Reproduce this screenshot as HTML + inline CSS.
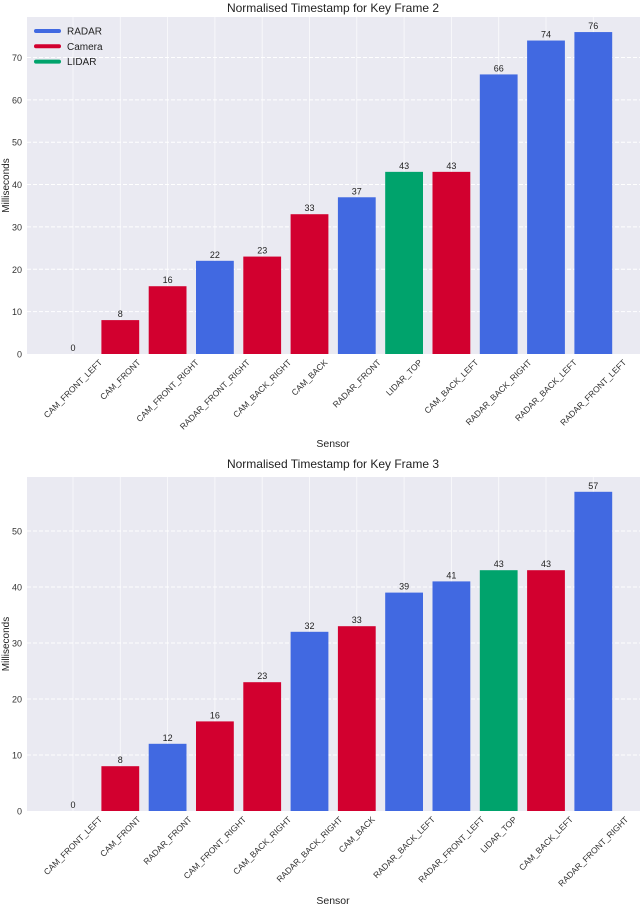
<!DOCTYPE html>
<html><head><meta charset="utf-8"><style>
body{margin:0;background:#fff;width:640px;height:905px;overflow:hidden;font-family:"Liberation Sans",sans-serif}
svg text{font-family:"Liberation Sans",sans-serif}
</style></head><body>
<svg id="s" width="640" height="905" xmlns="http://www.w3.org/2000/svg"></svg>
<script>
const cats1=["CAM_FRONT_LEFT","CAM_FRONT","CAM_FRONT_RIGHT","RADAR_FRONT_RIGHT","CAM_BACK_RIGHT","CAM_BACK","RADAR_FRONT","LIDAR_TOP","CAM_BACK_LEFT","RADAR_BACK_RIGHT","RADAR_BACK_LEFT","RADAR_FRONT_LEFT"];
const vals1=[0,8,16,22,23,33,37,43,43,66,74,76];
const types1=["C","C","C","R","C","C","R","L","C","R","R","R"];
const ticks1=[0,10,20,30,40,50,60,70];
const cats2=["CAM_FRONT_LEFT","CAM_FRONT","RADAR_FRONT","CAM_FRONT_RIGHT","CAM_BACK_RIGHT","RADAR_BACK_RIGHT","CAM_BACK","RADAR_BACK_LEFT","RADAR_FRONT_LEFT","LIDAR_TOP","CAM_BACK_LEFT","RADAR_FRONT_RIGHT"];
const vals2=[0,8,12,16,23,32,33,39,41,43,43,57];
const types2=["C","C","R","C","C","R","C","R","R","L","C","R"];
const ticks2=[0,10,20,30,40,50];
const colors={R:"#4169E1",C:"#D2002F",L:"#00A36C"};
const NS="http://www.w3.org/2000/svg";
const svg=document.getElementById("s");
function mk(tag,attrs,parent,text){const e=document.createElementNS(NS,tag);for(const k in attrs)e.setAttribute(k,attrs[k]);if(text!==undefined)e.textContent=text;(parent||svg).appendChild(e);return e;}
function chart(cfg){
  const g=mk("g",{});
  
  
  const L=27,R=640,T=cfg.top,B=cfg.zero;
  const bg=mk("rect",{x:L,y:T,width:R-L,height:B-T,fill:"#EAEAF2"},g);
  
  
  const step=47.3,x0=73;
  const xs=i=>x0+i*step;
  const ys=v=>B-v*cfg.pxPerUnit;
  cfg.ticks.forEach(t=>{
    const y=ys(t);
    if(t>0){const gl=mk("line",{x1:L,x2:R,y1:y,y2:y,stroke:"#fff","stroke-width":1,"stroke-dasharray":"4,2"},g);
    
    }
    const tl=mk("text",{x:22,y:y+3.5,"font-size":9,"text-anchor":"end",fill:"#333"},g,String(t));
    
    
  });
  cfg.cats.forEach((c,i)=>{
    const x=xs(i);
    const vl=mk("line",{x1:x,x2:x,y1:T,y2:B,stroke:"#fff","stroke-width":0.8,opacity:0.8},g);
    
    
    const v=cfg.vals[i];
    const bw=37.8;
    const r=mk("rect",{x:x-bw/2,y:ys(v),width:bw,height:B-ys(v),fill:colors[cfg.types[i]]},g);
    
    
    const vt=mk("text",{x:x,y:ys(v)-3,"font-size":9,"text-anchor":"middle",fill:"#222"},g,String(v));
    
    
    const xl=mk("text",{x:0,y:0,"font-size":8.5,"text-anchor":"end",fill:"#333"},g,c);
    
    
    const w=xl.getComputedTextLength();
    const tx=x+w*0.3536+2,ty=B+9;
    xl.setAttribute("x",tx);xl.setAttribute("y",ty);
    xl.setAttribute("transform",`rotate(-45 ${tx} ${ty})`);
  });
  const ti=mk("text",{x:333,y:cfg.titleY,"font-size":12,"text-anchor":"middle",fill:"#222"},g,cfg.title);
  
  
  const yt=mk("text",{x:9,y:(T+B)/2,"font-size":10,"text-anchor":"middle",fill:"#222",transform:`rotate(-90 9 ${(T+B)/2})`},g,"Milliseconds");
  
  
  const xt=mk("text",{x:333,y:cfg.xlabelY,"font-size":10.5,"text-anchor":"middle",fill:"#222"},g,"Sensor");
  
  
  return g;
}
chart({name:"chart-key-frame-2",cats:cats1,vals:vals1,types:types1,ticks:ticks1,top:17,zero:354,pxPerUnit:4.236,title:"Normalised Timestamp for Key Frame 2",titleY:12,xlabelY:447});
chart({name:"chart-key-frame-3",cats:cats2,vals:vals2,types:types2,ticks:ticks2,top:477,zero:811,pxPerUnit:5.6,title:"Normalised Timestamp for Key Frame 3",titleY:468,xlabelY:904});
const legend=[["RADAR","R"],["Camera","C"],["LIDAR","L"]];
const lg=mk("g",{});


legend.forEach((e,i)=>{
  const y=31+i*15.3;
  const ln=mk("line",{x1:36,x2:59,y1:y,y2:y,stroke:colors[e[1]],"stroke-width":4,"stroke-linecap":"round"},lg);
  
  
  const t=mk("text",{x:67,y:y+3.5,"font-size":10,fill:"#222"},lg,e[0]);
  
  
});
</script>
</body></html>
